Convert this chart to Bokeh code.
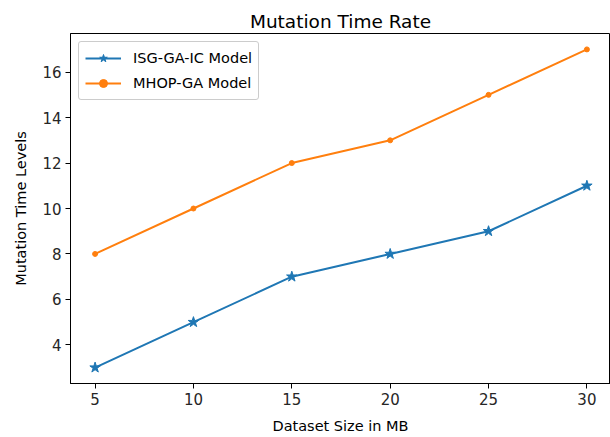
from bokeh.plotting import figure
from bokeh.models import Range1d, FixedTicker, Legend, LegendItem
from bokeh.embed import file_html
from bokeh.resources import INLINE

sizes = [5, 10, 15, 20, 25, 30]
isg = [3, 5, 7, 8, 9, 11]
mhop = [8, 10, 12, 13, 15, 17]
x_ticks = [5, 10, 15, 20, 25, 30]
y_ticks = [4, 6, 8, 10, 12, 14, 16]

FONT = "DejaVu Sans"

p = figure(width=610, height=437, output_backend="svg", toolbar_location=None,
           x_range=Range1d(3.75, 31.2), y_range=Range1d(2.3, 17.7),
           min_border_left=70, min_border_right=0, min_border_top=33, min_border_bottom=54)
p.title.text = "Mutation Time Rate"
p.title.text_font = FONT
p.title.text_font_size = "18.5px"
p.title.text_font_style = "normal"
p.title.align = "center"
p.title.text_color = "#000000"
p.title.standoff = 4

p.xgrid.visible = False
p.ygrid.visible = False
p.outline_line_color = "#000000"
p.outline_line_width = 1

for ax in (p.xaxis[0], p.yaxis[0]):
    ax.major_label_text_font = FONT
    ax.major_label_text_font_size = "15px"
    ax.major_label_text_color = "#262626"
    ax.axis_label_text_font = FONT
    ax.axis_label_text_font_size = "14.5px"
    ax.axis_label_text_font_style = "normal"
    ax.axis_label_text_color = "#000000"
    ax.minor_tick_line_color = None
    ax.major_tick_out = 5
    ax.major_tick_in = 0
    ax.major_label_standoff = 4
    ax.axis_line_color = "#000000"
    ax.major_tick_line_color = "#000000"

p.xaxis.ticker = FixedTicker(ticks=x_ticks)
p.yaxis.ticker = FixedTicker(ticks=y_ticks)
p.xaxis.axis_label = "Dataset Size in MB"
p.yaxis.axis_label = "Mutation Time Levels"
p.xaxis.axis_label_standoff = 10
p.yaxis.axis_label_standoff = 10

l1 = p.line(sizes, isg, line_color="#1f77b4", line_width=2)
m1 = p.scatter(sizes, isg, marker="star", size=11, fill_color="#1f77b4", line_color="#1f77b4")
l2 = p.line(sizes, mhop, line_color="#ff7f0e", line_width=2)
m2 = p.scatter(sizes, mhop, marker="circle", size=5, fill_color="#ff7f0e", line_color="#ff7f0e")

legend = Legend(items=[LegendItem(label="ISG-GA-IC Model", renderers=[l1, m1]),
                       LegendItem(label="MHOP-GA Model", renderers=[l2, m2])],
                location="top_left")
legend.label_text_font = FONT
legend.label_text_font_size = "14.5px"
legend.label_text_color = "#000000"
legend.border_line_color = "#cccccc"
legend.border_line_alpha = 1
legend.border_radius = 3
legend.padding = 6
legend.spacing = 5
legend.margin = 8
legend.glyph_width = 36
legend.glyph_height = 20
legend.label_height = 20
legend.label_standoff = 12
p.add_layout(legend)

open("out.html", "w").write(file_html(p, INLINE))
